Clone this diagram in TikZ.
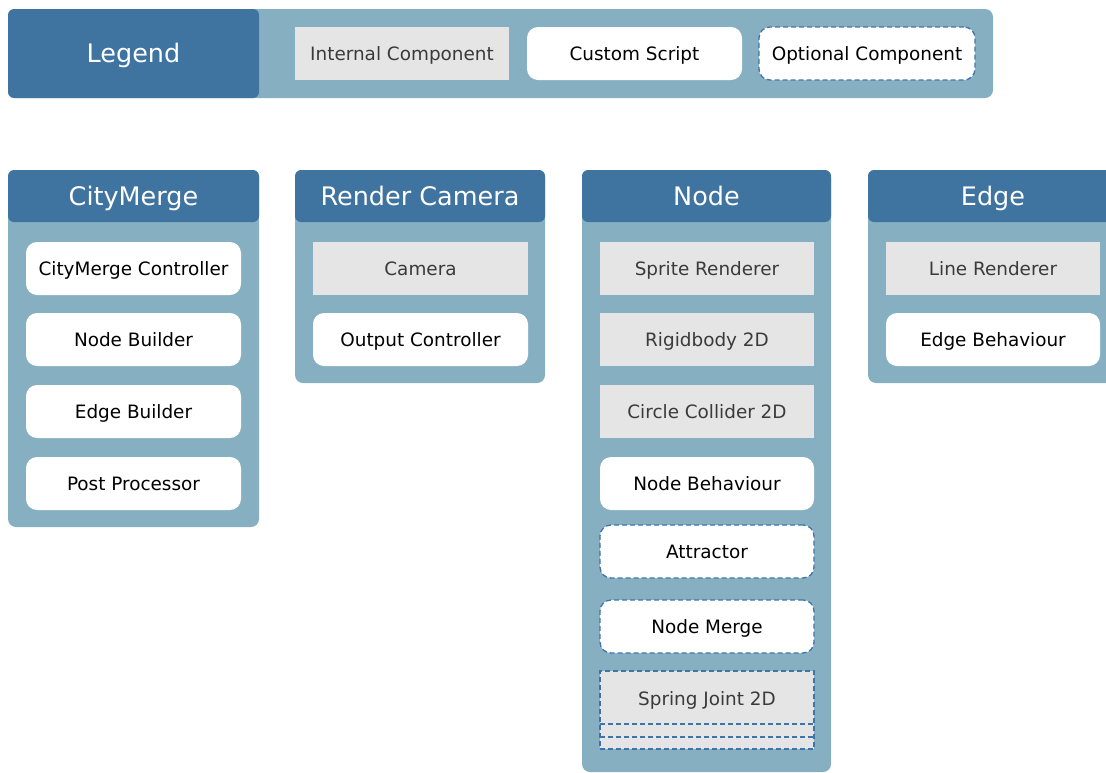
\documentclass[tikz,border=0pt]{standalone}
\usepackage{fontspec}
\setmainfont{DejaVu Sans}
\definecolor{hdr}{HTML}{3F73A0}
\definecolor{pnl}{HTML}{86AFC2}
\definecolor{gry}{HTML}{E5E5E5}
\definecolor{dsh}{HTML}{3E74A9}
\definecolor{gtx}{HTML}{3A3A3A}
\begin{document}
\begin{tikzpicture}[x=1pt,y=-1pt,
  every node/.style={inner sep=0pt,outer sep=0pt,anchor=north west},
  panel/.style={fill=pnl,rounded corners=8pt},
  hfont/.style={font=\fontsize{25.5}{28}\selectfont,text height=18.6pt,text depth=0pt},
  ifont/.style={font=\fontsize{18.4}{21}\selectfont,text height=13.4pt,text depth=0pt},
  header/.style={fill=hdr,rounded corners=6pt,text=white,hfont},
  item/.style={minimum width=215pt,minimum height=53pt,ifont},
  internal/.style={item,fill=gry,text=gtx},
  script/.style={item,fill=white,rounded corners=11pt,text=black},
  dashline/.style={draw=dsh,line width=1.3pt,dash pattern=on 5pt off 3pt},
  optional/.style={script,dashline},
  optinternal/.style={internal,dashline}]
\useasboundingbox (0,0) rectangle (1106,772);
\clip (0,0) rectangle (1106,772);
% Legend
\node[panel,minimum width=985pt,minimum height=89pt] (legend) at (8,9) {};
\node[header,minimum width=251pt,minimum height=89pt] (legendhdr) at (8,9) {Legend};
\node[internal,minimum width=214pt] (lint) at (295,27) {Internal Component};
\node[script,minimum width=215pt] (lscr) at (527,27) {Custom Script};
\node[optional,minimum width=216pt] (lopt) at (759,27) {Optional Component};
% CityMerge
\node[panel,minimum width=251pt,minimum height=357pt] (cm) at (8,170) {};
\node[header,minimum width=251pt,minimum height=52pt] (cmh) at (8,170) {CityMerge};
\node[script] (cmc) at (26,242) {CityMerge Controller};
\node[script] (nb) at (26,313) {Node Builder};
\node[script] (eb) at (26,385) {Edge Builder};
\node[script] (pp) at (26,457) {Post Processor};
% Render Camera
\node[panel,minimum width=250pt,minimum height=213pt] (rc) at (295,170) {};
\node[header,minimum width=250pt,minimum height=52pt] (rch) at (295,170) {Render Camera};
\node[internal] (cam) at (313,242) {Camera};
\node[script] (oc) at (313,313) {Output Controller};
% Node
\node[panel,minimum width=249pt,minimum height=602pt] (nd) at (582,170) {};
\node[header,minimum width=249pt,minimum height=52pt] (ndh) at (582,170) {Node};
\node[internal,minimum width=214pt] (sr) at (600,242) {Sprite Renderer};
\node[internal,minimum width=214pt] (rb) at (600,313) {Rigidbody 2D};
\node[internal,minimum width=214pt] (cc) at (600,385) {Circle Collider 2D};
\node[script,minimum width=214pt] (nbh) at (600,457) {Node Behaviour};
\node[optional,minimum width=214pt] (att) at (600,525) {Attractor};
\node[optional,minimum width=214pt] (nm) at (600,600) {Node Merge};
\node[optinternal,minimum width=214pt,minimum height=78pt] (sj) at (600,671) {};
\node[anchor=center,ifont,text=gtx] (sjt) at (707,698.5) {Spring Joint 2D};
\coordinate (s1l) at (600,724); \coordinate (s1r) at (814,724);
\coordinate (s2l) at (600,737); \coordinate (s2r) at (814,737);
\draw[dashline] (s1l) -- (s1r);
\draw[dashline] (s2l) -- (s2r);
% Edge
\node[panel,minimum width=250pt,minimum height=213pt] (ed) at (868,170) {};
\node[header,minimum width=250pt,minimum height=52pt] (edh) at (868,170) {};
\node[anchor=center,text=white,hfont] (edt) at (993,196) {Edge};
\node[internal,minimum width=214pt] (lr) at (886,242) {Line Renderer};
\node[script,minimum width=214pt] (ebh) at (886,313) {Edge Behaviour};
\end{tikzpicture}
\end{document}
